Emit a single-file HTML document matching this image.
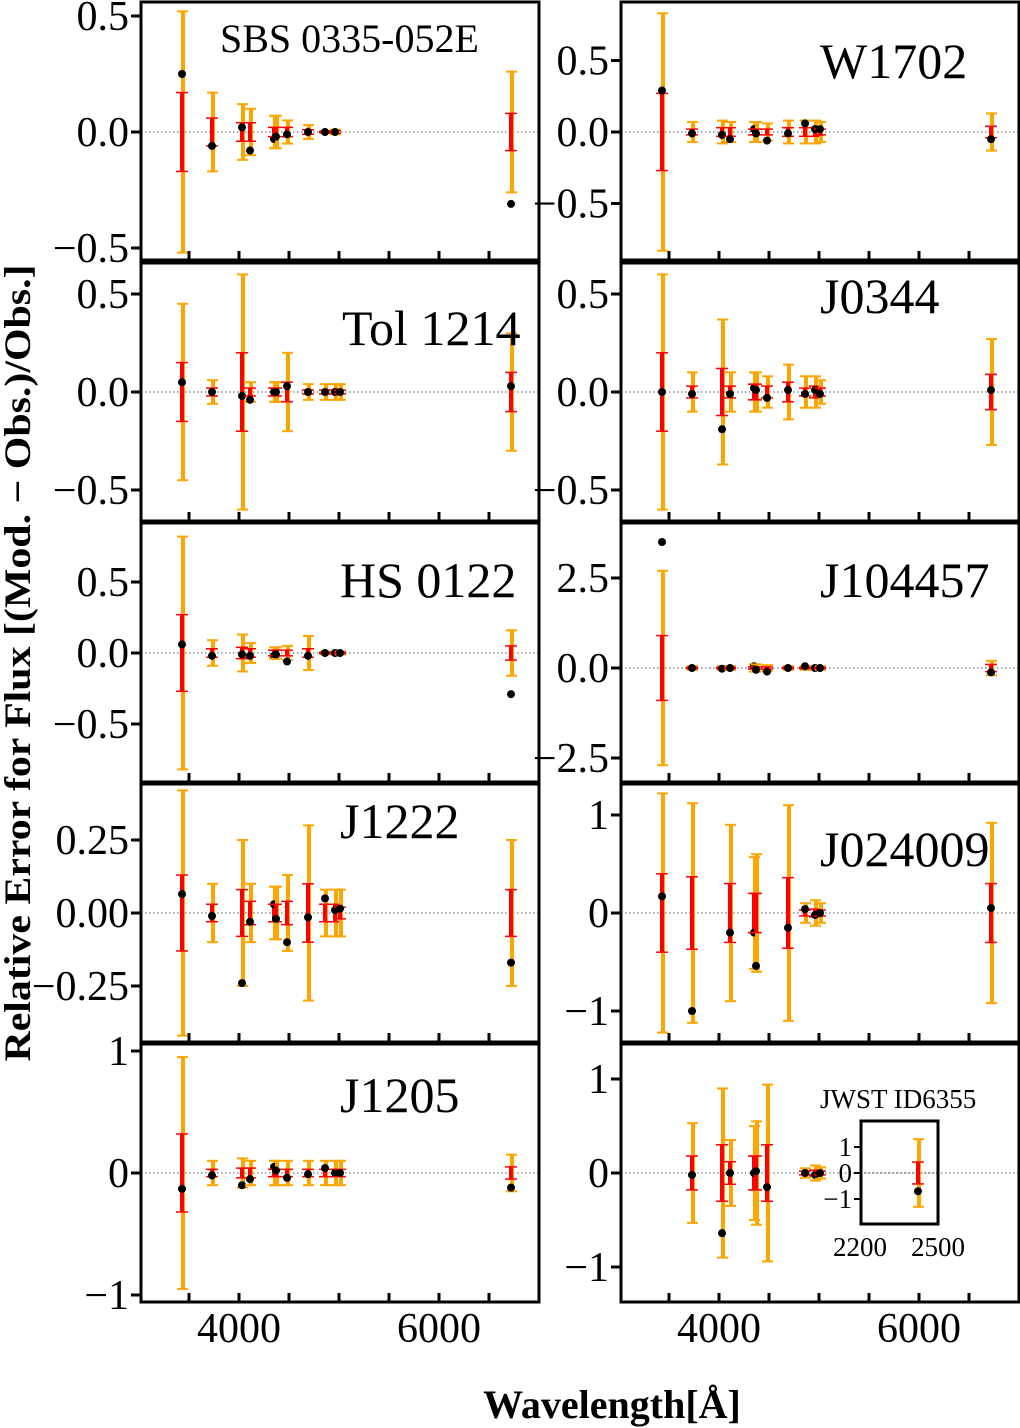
<!DOCTYPE html>
<html><head><meta charset="utf-8"><style>
html,body{margin:0;padding:0;background:#fff}
svg{display:block}
text{font-family:"Liberation Serif",serif;fill:#000}
</style></head><body>
<svg id="s" width="1020" height="1428" xmlns="http://www.w3.org/2000/svg"></svg>
<script>
const S=document.getElementById('s');let h='';
const tops=[2,263,523,784,1044],bots=[260,521,782,1042,1302];
const L=[182,212,242,250,274,276,287,308,325,335,340,511];
const P=[
{c:0,r:0,y0:132,k:232,t:[[0.5,'0.5'],[0,'0.0'],[-0.5,'−0.5']],ti:'SBS 0335-052E',tx:220,ty:52,fs:40,
 d:[[0,.25,.52,.17],[1,-.06,.17,.06],[2,.02,.12,.04],[3,-.08,.1,.04],[4,-.03,.07,.02],[5,-.02,.07,.02],[6,-.01,.05,.02],[7,0,.03,.01],[8,0,.005,.003],[9,0,.01,.005],[11,-.31,.26,.08]]},
{c:0,r:1,y0:392,k:196,t:[[0.5,'0.5'],[0,'0.0'],[-0.5,'−0.5']],ti:'Tol 1214',tx:342,ty:345,fs:50,
 d:[[0,.05,.45,.15],[1,0,.06,.02],[2,-.02,.6,.2],[3,-.04,.05,.02],[4,0,.05,.02],[5,0,.05,.02],[6,.03,.2,.05],[7,0,.04,.01],[8,0,.04,.01],[9,0,.04,.01],[10,0,.04,.01],[11,.03,.3,.1]]},
{c:0,r:2,y0:653,k:142,t:[[0.5,'0.5'],[0,'0.0'],[-0.5,'−0.5']],ti:'HS 0122',tx:340,ty:597,fs:50,
 d:[[0,.06,.82,.27],[1,-.02,.09,.03],[2,-.01,.13,.04],[3,-.02,.07,.03],[4,-.02,.04,.02],[5,-.01,.04,.02],[6,-.06,.05,.02],[7,-.02,.12,.03],[8,0,.01,.005],[9,0,.01,.005],[10,0,.01,.005],[11,-.29,.16,.05]]},
{c:0,r:3,y0:913,k:292,t:[[0.25,'0.25'],[0,'0.00'],[-0.25,'−0.25']],ti:'J1222',tx:340,ty:838,fs:50,
 d:[[0,.065,.42,.13],[1,-.01,.1,.03],[2,-.24,.25,.08],[3,-.03,.1,.04],[4,.03,.09,.03],[5,-.02,.09,.03],[6,-.1,.13,.04],[7,-.015,.3,.1],[8,.05,.08,.03],[9,.01,.08,.03],[10,.015,.08,.02],[11,-.17,.25,.08]]},
{c:0,r:4,y0:1173,k:122,t:[[1,'1'],[0,'0'],[-1,'−1']],ti:'J1205',tx:340,ty:1112,fs:50,
 d:[[0,-.13,.95,.32],[1,-.02,.1,.03],[2,-.1,.12,.04],[3,-.05,.1,.04],[4,.05,.1,.03],[5,.02,.1,.03],[6,-.04,.1,.03],[7,-.01,.1,.03],[8,.04,.1,.03],[9,0,.1,.03],[10,0,.1,.03],[11,-.12,.15,.05]]},
{c:1,r:0,y0:132,k:143,t:[[0.5,'0.5'],[0,'0.0'],[-0.5,'−0.5']],ti:'W1702',tx:820,ty:78,fs:50,
 d:[[0,.29,.83,.27],[1,-.01,.07,.02],[2,-.02,.08,.03],[3,-.05,.07,.03],[4,.02,.07,.02],[5,-.01,.07,.02],[6,-.06,.06,.02],[7,-.01,.08,.03],[8,.06,.08,.03],[9,.02,.08,.03],[10,.02,.07,.02],[11,-.05,.13,.04]]},
{c:1,r:1,y0:392,k:196,t:[[0.5,'0.5'],[0,'0.0'],[-0.5,'−0.5']],ti:'J0344',tx:820,ty:313,fs:50,
 d:[[0,0,.6,.2],[1,-.01,.1,.03],[2,-.19,.37,.12],[3,-.01,.1,.03],[4,.02,.1,.04],[5,.01,.1,.04],[6,-.03,.08,.03],[7,.01,.14,.05],[8,-.01,.08,.02],[9,.01,.08,.03],[10,-.01,.06,.02],[11,.01,.27,.09]]},
{c:1,r:2,y0:668,k:36,t:[[2.5,'2.5'],[0,'0.0'],[-2.5,'−2.5']],ti:'J104457',tx:820,ty:597,fs:50,
 d:[[0,3.5,2.7,.9],[1,0,.05,.02],[2,-.02,.05,.02],[3,0,.05,.02],[4,.05,.1,.03],[5,-.05,.1,.03],[6,-.1,.08,.03],[7,0,.05,.02],[8,.05,.05,.02],[9,0,.05,.02],[10,0,.05,.02],[11,-.12,.2,.1]]},
{c:1,r:3,y0:913,k:98,t:[[1,'1'],[0,'0'],[-1,'−1']],ti:'J024009',tx:820,ty:866,fs:50,
 d:[[0,.17,1.22,.4],[1,-1.0,1.12,.37],[3,-.2,.9,.3],[4,-.2,.57,.2],[5,-.54,.6,.2],[7,-.15,1.1,.36],[8,.04,.1,.03],[9,-.02,.13,.04],[10,0,.1,.03],[11,.05,.92,.3]]},
{c:1,r:4,y0:1173,k:94,t:[[1,'1'],[0,'0'],[-1,'−1']],ti:'',
 d:[[1,-.02,.53,.18],[2,-.64,.9,.3],[3,0,.35,.12],[4,0,.5,.18],[5,.02,.55,.18],[6,-.15,.94,.3],[8,0,.05,.02],[9,-.02,.08,.03],[10,0,.06,.02]]}
];
function eb(x,y0,k,v,o,r){
 let s='';
 s+=`<line x1="${x}" x2="${x}" y1="${y0-o*k}" y2="${y0+o*k}" stroke="#555" stroke-width="1"/>`;
 s+=`<line x1="${x+1}" x2="${x+1}" y1="${y0-o*k}" y2="${y0+o*k}" stroke="#ffa500" stroke-width="4"/>`;
 s+=`<line x1="${x-5}" x2="${x+6}" y1="${y0-o*k}" y2="${y0-o*k}" stroke="#ffa500" stroke-width="2"/>`;
 s+=`<line x1="${x-5}" x2="${x+6}" y1="${y0+o*k}" y2="${y0+o*k}" stroke="#ffa500" stroke-width="2"/>`;
 s+=`<line x1="${x}" x2="${x}" y1="${y0-r*k}" y2="${y0+r*k}" stroke="#ff0000" stroke-width="4"/>`;
 s+=`<line x1="${x-6}" x2="${x+6}" y1="${y0-r*k}" y2="${y0-r*k}" stroke="#ff0000" stroke-width="1.5"/>`;
 s+=`<line x1="${x-6}" x2="${x+6}" y1="${y0+r*k}" y2="${y0+r*k}" stroke="#ff0000" stroke-width="1.5"/>`;
 s+=`<circle cx="${x}" cy="${y0-v*k}" r="4" fill="#000"/>`;
 return s;
}
for(const p of P){
 const off=p.c*480, x1=141+off, x2=539+off, yt=tops[p.r], yb=bots[p.r];
 h+=`<line x1="${x1}" x2="${x2}" y1="${p.y0}" y2="${p.y0}" stroke="#777" stroke-width="1.2" stroke-dasharray="1.5,2.5"/>`;
 for(const d of p.d) h+=eb(L[d[0]]+off,p.y0,p.k,d[1],d[2],d[3]);
 for(let i=0;i<7;i++){const x=189+50*i+off;h+=`<line x1="${x}" x2="${x}" y1="${yb}" y2="${yb-9}" stroke="#000" stroke-width="3"/>`;}
 for(const t of p.t){const y=p.y0-t[0]*p.k;
  h+=`<line x1="${x1-10}" x2="${x1}" y1="${y}" y2="${y}" stroke="#000" stroke-width="3"/>`;
  h+=`<text x="${x1-12}" y="${y+14}" font-size="42" text-anchor="end">${t[1]}</text>`;}
 h+=`<rect x="${x1}" y="${yt}" width="${x2-x1}" height="${yb-yt}" fill="none" stroke="#000" stroke-width="3"/>`;
 if(p.ti) h+=`<text x="${p.tx}" y="${p.ty}" font-size="${p.fs}">${p.ti}</text>`;
}
h+=`<text x="820" y="1108" font-size="27">JWST ID6355</text>`;
h+=`<line x1="860" x2="938" y1="1173" y2="1173" stroke="#777" stroke-width="1.2" stroke-dasharray="1.5,2.5"/>`;
h+=eb(918,1173,26,-.7,1.3,.42);
h+=`<rect x="861" y="1121" width="77" height="103" fill="none" stroke="#000" stroke-width="3"/>`;
for(const [v,l] of [[1,'1'],[0,'0'],[-1,'−1']]){const y=1173-v*26;
 h+=`<line x1="854" x2="861" y1="${y}" y2="${y}" stroke="#000" stroke-width="2"/>`;
 h+=`<text x="852" y="${y+9}" font-size="27" text-anchor="end">${l}</text>`;}
h+=`<text x="860" y="1256" font-size="27" text-anchor="middle">2200</text>`;
h+=`<text x="938" y="1256" font-size="27" text-anchor="middle">2500</text>`;
for(const off of [0,480]){
 h+=`<text x="${239+off}" y="1342" font-size="42" text-anchor="middle">4000</text>`;
 h+=`<text x="${439+off}" y="1342" font-size="42" text-anchor="middle">6000</text>`;
}
h+=`<text x="612" y="1418" font-size="40" font-weight="bold" text-anchor="middle">Wavelength[Å]</text>`;
h+=`<text transform="translate(30,663) rotate(-90)" font-size="37" font-weight="bold" text-anchor="middle" textLength="797" lengthAdjust="spacingAndGlyphs">Relative Error for Flux [(Mod. − Obs.)/Obs.]</text>`;
S.innerHTML=h;
</script>
</body></html>
